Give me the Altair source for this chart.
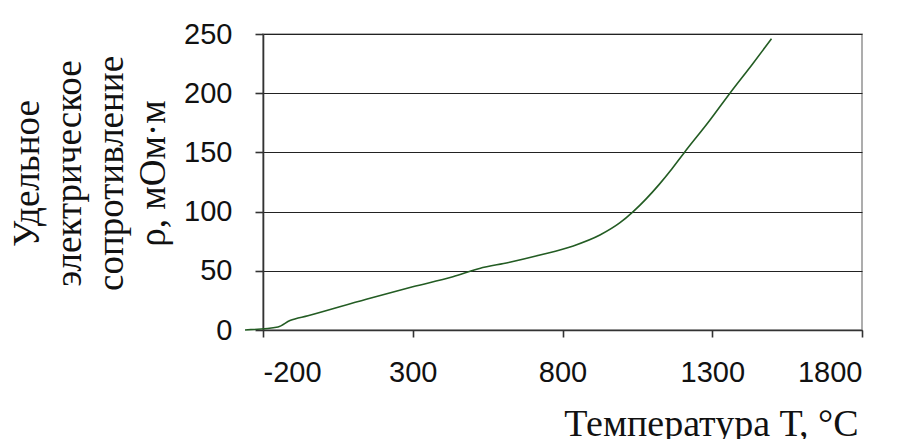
import altair as alt
import pandas as pd

# Temperature, °C and resistivity, mOhm·m
temps = [-260, -150, -110, -50, 145, 300, 434, 523, 620, 725, 836, 925, 992,
         1036, 1123, 1165, 1207, 1290, 1359, 1434, 1498]
rho = [0, 2.5, 8, 12, 26, 36.5, 45, 52, 57, 63.3, 71, 80.2, 90.6,
       100, 123, 136, 150, 176.5, 200, 224.5, 246]
x_ticks = [-200, 300, 800, 1300, 1800]
y_ticks = [0, 50, 100, 150, 200, 250]

df = pd.DataFrame({"T": temps, "rho": rho})

chart = alt.Chart(df).mark_line(color="#235c23", strokeWidth=1.6, interpolate="monotone").encode(
    x=alt.X("T:Q",
            scale=alt.Scale(domain=[-200, 1800], nice=False, zero=False),
            axis=alt.Axis(values=x_ticks, grid=False, tickSize=7, tickColor="#333",
                          domainColor="#333", domainWidth=1.6, tickWidth=1.6,
                          labelExpr="'' + datum.value",
                          labelFont="Liberation Sans", labelFontSize=29, labelColor="#111",
                          labelPadding=21,
                          title="Температура Т, °С", titleFont="Liberation Serif",
                          titleFontSize=38, titleFontWeight="normal", titleColor="#111",
                          titleAnchor="end", titleAlign="right", titleBaseline="alphabetic",
                          titleX=595, titleY=105)),
    y=alt.Y("rho:Q",
            scale=alt.Scale(domain=[0, 250], nice=False),
            axis=alt.Axis(values=y_ticks, grid=True, gridColor="#222", gridWidth=1.2,
                          tickSize=8, tickColor="#333", tickWidth=1.6,
                          domainColor="#333", domainWidth=1.6,
                          labelExpr="'' + datum.value",
                          labelFont="Liberation Sans", labelFontSize=29, labelColor="#111",
                          labelPadding=23,
                          title=["Удельное", "электрическое", "сопротивление", "ρ, мОм·м"],
                          titleFont="Liberation Serif", titleFontSize=37,
                          titleFontWeight="normal", titleColor="#111",
                          titleLineHeight=42, titleAngle=270, titleAlign="center",
                          titleBaseline="alphabetic", titleX=-225, titleY=139)),
).properties(
    width=599, height=296,
    autosize=alt.AutoSizeParams(type="none"),
    padding={"left": 255, "top": 26, "right": 37, "bottom": 109},
).configure_view(stroke="#999", strokeWidth=1.6)

chart.save("out.html", embed_options={"renderer": "svg", "actions": False})
